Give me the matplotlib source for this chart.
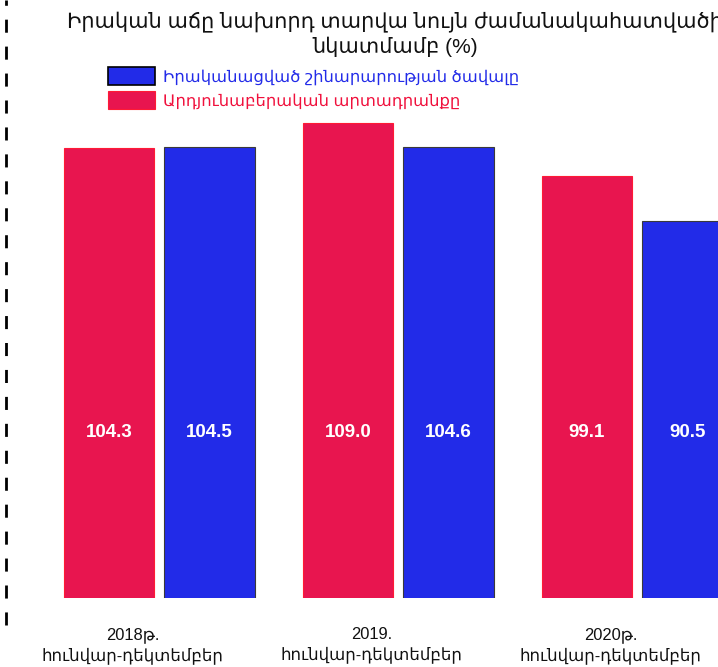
import matplotlib.pyplot as plt
import numpy as np
from matplotlib.lines import Line2D

plt.rcParams['font.family'] = ['Liberation Sans', 'DejaVu Sans']

# data
periods = ["2018թ.\nհունվար-դեկտեմբեր", "2019.\nհունվար-դեկտեմբեր", "2020թ.\nհունվար-դեկտեմբեր"]
industry = [104.3, 109.0, 99.1]        # red
construction = [104.5, 104.6, 90.5]    # blue
industry_name = "Արդյունաբերական արտադրանքը"
construction_name = "Իրականացված շինարարության ծավալը"
title = "Իրական աճը նախորդ տարվա նույն ժամանակահատվածի\nնկատմամբ (%)"

red = "#e8154f"
blue = "#222be8"

fig = plt.figure(figsize=(7.18, 6.67), dpi=100)
ax = fig.add_axes([0, 69 / 667, 1, 598 / 667])

x = np.arange(len(periods))
w = 0.38
b_red = ax.bar(x - 0.10, industry, w, color=red, edgecolor="#ff1a35", linewidth=0.8)
b_blue = ax.bar(x + 0.32, construction, w, color=blue, edgecolor="#3a3a3a", linewidth=0.8)

for bars in (b_red, b_blue):
    for r in bars:
        ax.text(r.get_x() + r.get_width() / 2, 50.5, f"{r.get_height():.1f}",
                ha="center", va="center", color="white", fontsize=13.5, fontweight="bold")

# value axis starts above zero (bars are clipped at the bottom edge)
ax.set_xlim(-0.556, 2.448)
ax.set_ylim(19.1, 19.1 + 598 / 5.28)
ax.set_xticks(x, periods, fontsize=11.9, color="#111111", linespacing=1.3)
ax.tick_params(axis="x", length=0, pad=21)
ax.set_yticks([])
for s in ax.spines.values():
    s.set_visible(False)
ax.patch.set_alpha(0)

fig.text(395 / 718, 1 - 34 / 667, title, ha="center", va="center",
         fontsize=15, color="#111111", linespacing=1.3)

leg = ax.legend([b_blue, b_red], [construction_name, industry_name],
                loc="upper left", bbox_to_anchor=(108 / 718, 1 - 67 / 667),
                bbox_transform=fig.transFigure, frameon=False, fontsize=11.8,
                handlelength=2.87, handleheight=1.28, handletextpad=0.5,
                labelspacing=0.4, borderpad=0, borderaxespad=0,
                labelcolor=[blue, "#f0103c"])
leg.legend_handles[0].set_edgecolor("black")
leg.legend_handles[0].set_linewidth(1.2)

fig.add_artist(Line2D([6 / 718, 6 / 718], [1 - 625 / 667, 1], transform=fig.transFigure,
                      color="black", linewidth=2, linestyle=(0, (4.7, 5))))

fig.savefig("out.png", dpi=100)
